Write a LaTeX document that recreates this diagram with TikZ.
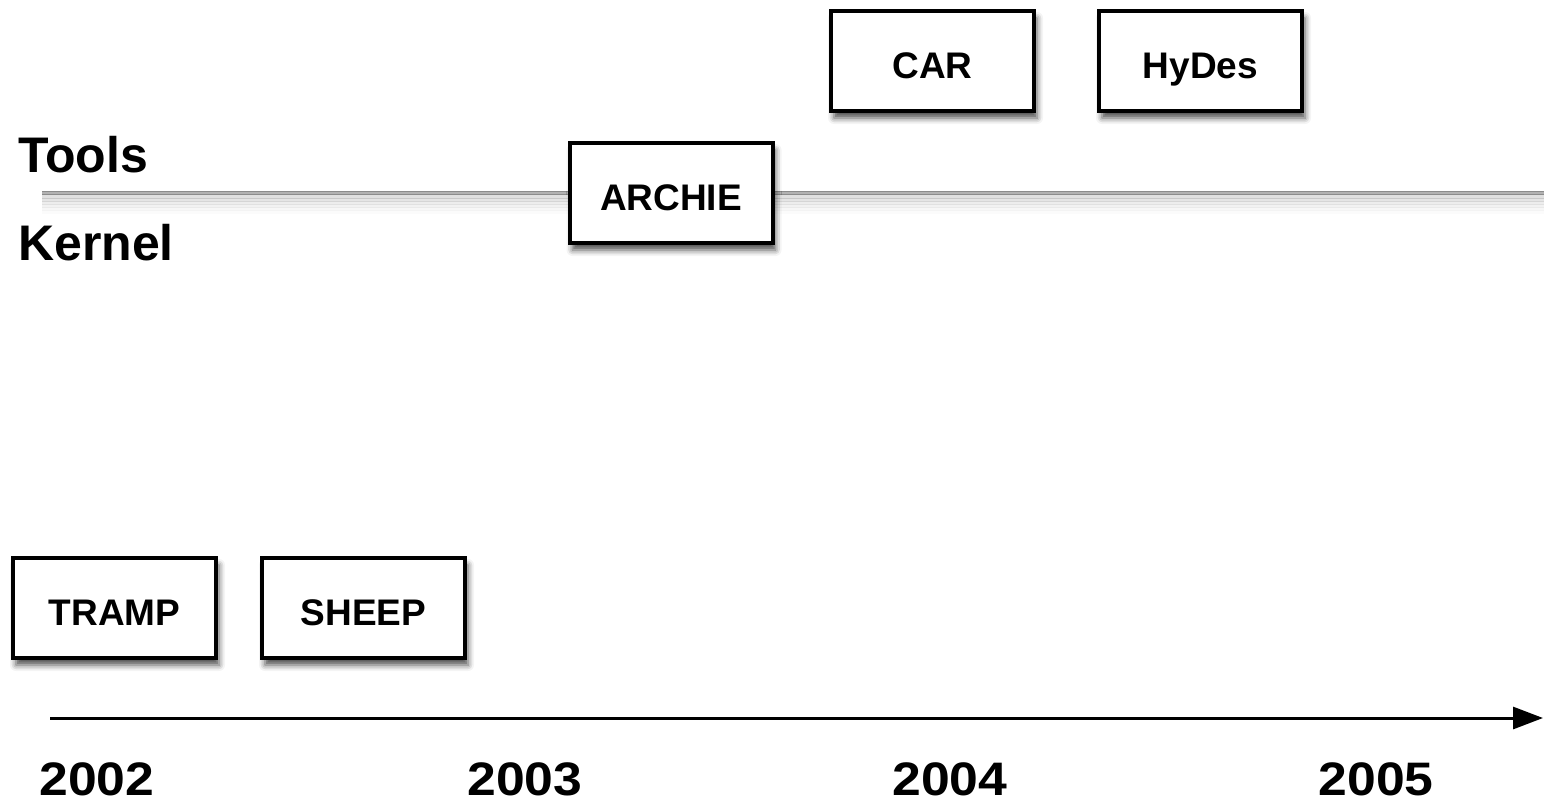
\documentclass[tikz,border=0pt]{standalone}
\usepackage{fontspec}
\setmainfont{Liberation Sans}
\usetikzlibrary{shadows.blur,arrows.meta}
\begin{document}
\begin{tikzpicture}[x=1pt,y=-1pt,
  boxnode/.style={draw=black,line width=4pt,fill=white,minimum width=203pt,minimum height=100pt,
    inner sep=0pt,text height=34pt,text depth=0pt,font=\bfseries\fontsize{37}{40}\selectfont,
    blur shadow={shadow xshift=3pt,shadow yshift=-7pt,shadow blur radius=6pt,shadow opacity=70}},
  lanelabel/.style={anchor=base west,inner sep=0pt,font=\bfseries\fontsize{50}{54}\selectfont},
  yearlabel/.style={anchor=base,inner sep=0pt,text depth=0pt,font=\bfseries\fontsize{47}{50}\selectfont},
  divider/.style={line width=3.5pt,draw=gray!90},
  timeline/.style={line width=3pt,-{Triangle[length=30pt,width=22pt]}}]
\useasboundingbox (0,0) rectangle (1544,803);
% divider with soft shadow
\coordinate (dl) at (42,193);
\coordinate (dr) at (1544,193);
\foreach \d/\o in {4/0.12,7/0.10,10/0.07,13/0.05,16/0.03,19/0.015}{
  \draw[line width=4pt,draw=black,opacity=\o] ([yshift=-\d pt]dl) -- ([yshift=-\d pt]dr);
}
\draw[divider] (dl) -- (dr);
\draw[line width=1.2pt,draw=gray!60] (dl) -- (dr);
% lane labels
\node[lanelabel] (tools) at (18,172) {Tools};
\node[lanelabel] (kernel) at (18,260) {Kernel};
% boxes
\node[boxnode] (tramp) at (114.5,608) {TRAMP};
\node[boxnode] (sheep) at (363.5,608) {SHEEP};
\node[boxnode] (archie) at (671,193) {ARCHIE};
\node[boxnode] (car) at (932.5,61) {CAR};
\node[boxnode] (hydes) at (1200.5,61) {HyDes};
% timeline
\coordinate (ts) at (50,718);
\coordinate (te) at (1543,718);
\draw[timeline] (ts) -- (te);
% years
\node[yearlabel,xscale=1.1] (y2002) at (97,795) {2002};
\node[yearlabel,xscale=1.1] (y2003) at (525,795) {2003};
\node[yearlabel,xscale=1.1] (y2004) at (950,795) {2004};
\node[yearlabel,xscale=1.1] (y2005) at (1376,795) {2005};
\end{tikzpicture}
\end{document}
